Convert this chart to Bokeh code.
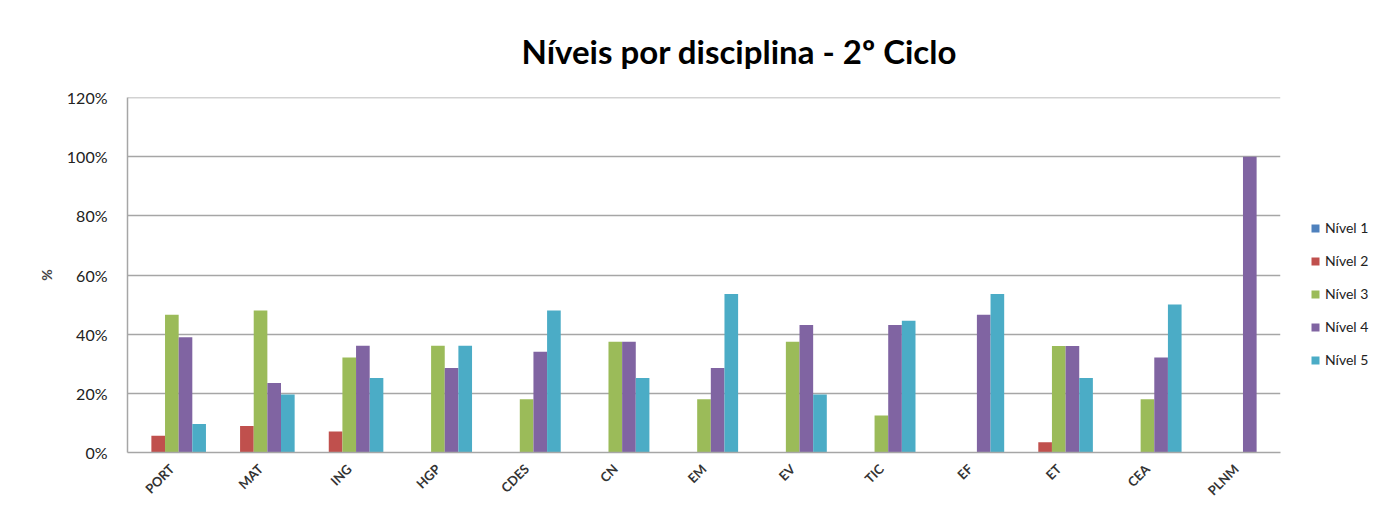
import math
from bokeh.plotting import figure
from bokeh.models import (ColumnDataSource, Legend, LegendItem, NumeralTickFormatter,
                          Range1d, FactorRange, FixedTicker)
from bokeh.transform import dodge
from bokeh.embed import file_html
from bokeh.resources import INLINE

disciplinas = ["PORT", "MAT", "ING", "HGP", "CDES", "CN", "EM", "EV", "TIC", "EF", "ET", "CEA", "PLNM"]
nivel1 = [0, 0, 0, 0, 0, 0, 0, 0, 0, 0, 0, 0, 0]
nivel2 = [0.057, 0.090, 0.071, 0, 0, 0, 0, 0, 0, 0, 0.035, 0, 0]
nivel3 = [0.466, 0.480, 0.321, 0.361, 0.180, 0.375, 0.180, 0.375, 0.125, 0, 0.360, 0.180, 0]
nivel4 = [0.390, 0.235, 0.361, 0.286, 0.341, 0.375, 0.286, 0.431, 0.431, 0.466, 0.360, 0.321, 1.0]
nivel5 = [0.096, 0.196, 0.252, 0.361, 0.480, 0.252, 0.536, 0.196, 0.446, 0.536, 0.252, 0.501, 0]
series_names = ["Nível 1", "Nível 2", "Nível 3", "Nível 4", "Nível 5"]
colors = ["#4F81BD", "#C0504D", "#9BBB59", "#8064A2", "#4BACC6"]
y_ticks = [0, 0.2, 0.4, 0.6, 0.8, 1.0, 1.2]

FONT = "Lato"

src = ColumnDataSource(dict(cat=disciplinas, n1=nivel1, n2=nivel2, n3=nivel3, n4=nivel4, n5=nivel5))

p = figure(frame_width=1153, frame_height=355, x_range=FactorRange(*disciplinas, range_padding=0),
           y_range=Range1d(0, 1.2008), output_backend="svg", toolbar_location=None,
           min_border_left=127, min_border_right=100, min_border_top=97, min_border_bottom=50)

p.title.text = "Níveis por disciplina  - 2º Ciclo"
p.title.text_font = FONT
p.title.text_font_size = "33px"
p.title.text_font_style = "bold"
p.title.align = "left"
p.title.vertical_align = "top"
p.title.offset = 394
p.title.standoff = 50
p.title.text_color = "#000000"

w = 1 / 6.5
items = []
for i, (col, name, c) in enumerate(zip(["n1", "n2", "n3", "n4", "n5"], series_names, colors)):
    r = p.vbar(x=dodge("cat", (i - 2) * w, range=p.x_range), top=col, width=w, bottom=0,
               source=src, fill_color=c, line_color=None)
    items.append(LegendItem(label=name, renderers=[r]))

legend = Legend(items=items, location=(30, 84), margin=0, padding=0, spacing=16,
                glyph_width=10, glyph_height=10, label_height=17, label_standoff=5,
                label_text_font=FONT, label_text_font_size="14px", label_text_color="#222222",
                border_line_color=None, background_fill_alpha=0)
p.add_layout(legend, "right")

p.outline_line_color = None
p.background_fill_color = "white"
p.border_fill_color = "white"

p.xgrid.grid_line_color = None
p.ygrid.grid_line_color = "#A6A6A6"
p.ygrid.grid_line_width = 1.5
p.ygrid.ticker = FixedTicker(ticks=y_ticks)

p.yaxis.ticker = FixedTicker(ticks=y_ticks)
p.yaxis.formatter = NumeralTickFormatter(format="0%")
p.yaxis.axis_label = "%"
p.yaxis.axis_label_text_font = FONT
p.yaxis.axis_label_text_font_size = "14px"
p.yaxis.axis_label_text_font_style = "bold"
p.yaxis.axis_label_standoff = 9
p.yaxis.major_label_text_font = FONT
p.yaxis.major_label_text_font_size = "16px"
p.yaxis.major_label_text_color = "#222222"
p.yaxis.major_label_standoff = 14
p.yaxis.axis_line_color = "#A6A6A6"
p.yaxis.axis_line_width = 1.5
p.yaxis.major_tick_line_color = None
p.yaxis.minor_tick_line_color = None

p.xaxis.axis_line_color = "#A6A6A6"
p.xaxis.axis_line_width = 1.5
p.xaxis.major_tick_line_color = None
p.xaxis.minor_tick_line_color = None
p.xaxis.major_label_orientation = math.pi / 4
p.xaxis.major_label_text_font = FONT
p.xaxis.major_label_text_font_size = "13px"
p.xaxis.major_label_text_font_style = "bold"
p.xaxis.major_label_text_color = "#333333"
p.xaxis.major_label_standoff = 8

open("out.html", "w").write(file_html(p, INLINE))
